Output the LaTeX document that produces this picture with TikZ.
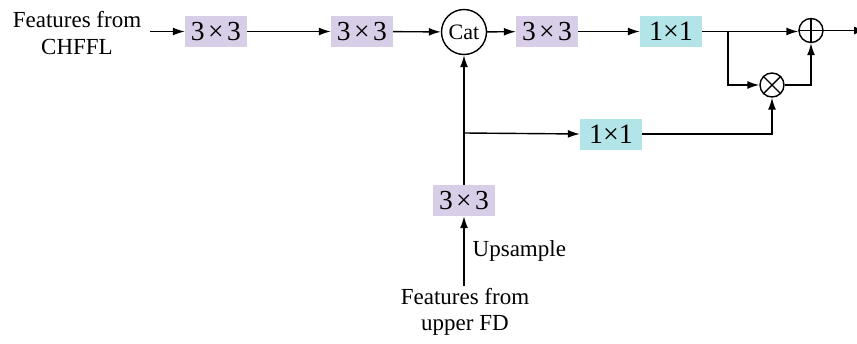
\documentclass[tikz,border=0pt]{standalone}
\usepackage{fontspec}
\setmainfont{Liberation Serif}
\usetikzlibrary{arrows.meta,calc}
\definecolor{lav}{RGB}{217,206,232}
\definecolor{cyanbox}{RGB}{179,228,232}
\newcommand{\kx}[2]{#1\kern3.5pt×\kern3.5pt#2}
\begin{document}
\begin{tikzpicture}[x=1pt,y=-1pt,
  conv/.style={fill=lav,minimum width=62pt,minimum height=31pt,inner sep=0pt,font=\fontsize{27.5}{30}\selectfont},
  pw/.style={fill=cyanbox,minimum width=62pt,minimum height=31pt,inner sep=0pt,font=\fontsize{28}{30}\selectfont},
  lbl/.style={align=center,font=\fontsize{23}{26.5}\selectfont,inner sep=0pt},
  op/.style={circle,draw,line width=1.4pt,minimum size=24pt,inner sep=0pt},
  arr/.style={line width=1.4pt,-{Latex[length=12pt,width=8pt]}},
  ln/.style={line width=1.4pt}]
\useasboundingbox (0,0) rectangle (857,343);
\node[lbl] (in) at (77,33) {Features from\\CHFFL};
\node[conv] (b1) at (216,31.5) {\kx33};
\node[conv] (b2) at (362,31.5) {\kx33};
\node[circle,draw,line width=1.4pt,minimum size=45pt,inner sep=0pt,font=\fontsize{22}{24}\selectfont] (cat) at (464,32) {Cat};
\node[conv] (b3) at (547,31.5) {\kx33};
\node[pw] (c1) at (671,31.5) {1×1};
\node[op] (plus) at (811,30.5) {};
\draw[ln] (plus.north) -- (plus.south) (plus.west) -- (plus.east);
\node[op] (times) at (772,85) {};
\draw[ln] (times.north west) -- (times.south east) (times.north east) -- (times.south west);
\node[pw] (c2) at (611,134) {1×1};
\node[conv] (b4) at (464,200.5) {\kx33};
\node[lbl] (up) at (465,312) {Features from\\upper FD};
\coordinate (src) at (150,31.5);
\coordinate (br1) at (728,31.5);
\coordinate (br2) at (464,133);
\coordinate (low) at (464,286);
\coordinate (out) at (866,30.5);
\draw[arr] (src) -- (b1.west);
\draw[arr] (b1) -- (b2);
\draw[arr] (b2) -- (cat);
\draw[arr] (cat) -- (b3);
\draw[arr] (b3) -- (c1);
\draw[arr] (c1.east) -- (c1.east -| plus.west);
\draw[arr] (br1) |- (times.west);
\draw[arr] (times.east) -| (plus.south);
\draw[arr] (c2.east) -| (times.south);
\draw[arr] (b4.north) -- (cat.south);
\draw[arr] (br2) -- (c2.west);
\draw[arr] (low) -- node[right=8pt,lbl]{Upsample} (b4.south);
\draw[arr] (plus.east) -- (out);
\end{tikzpicture}
\end{document}
